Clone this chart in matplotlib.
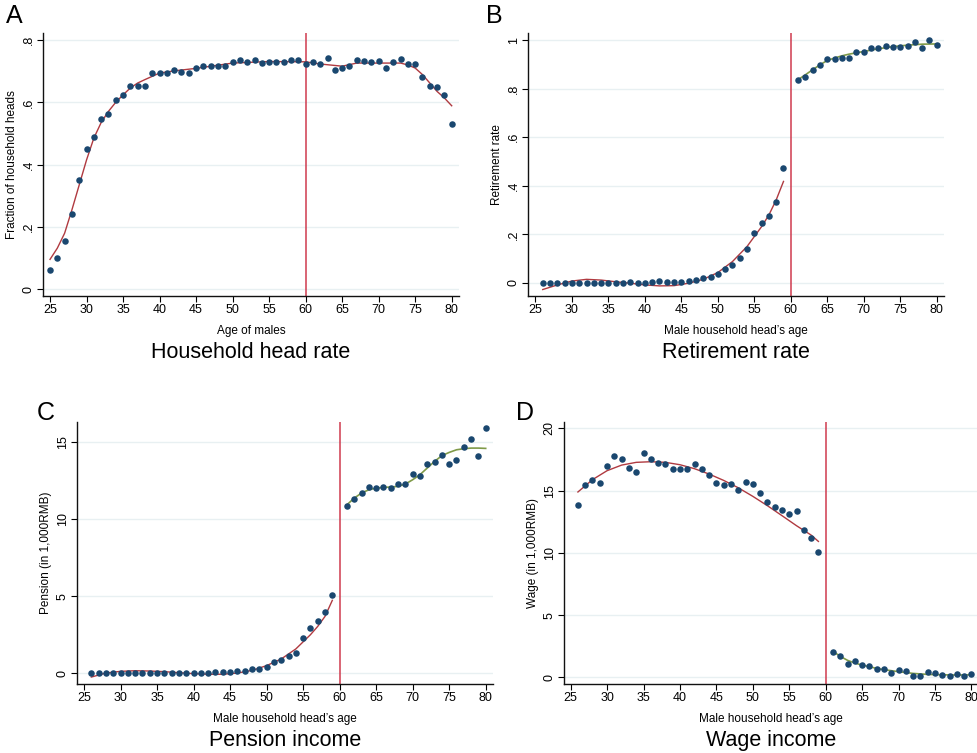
import numpy as np
import matplotlib
matplotlib.use('Agg')
import matplotlib.pyplot as plt

plt.rcParams['font.family'] = ['Liberation Sans', 'DejaVu Sans']

# ==========================================
# DATA
# ==========================================
ages_a = list(range(25, 81))
head_rate = [0.062, 0.102, 0.156, 0.242, 0.350, 0.451, 0.490, 0.548, 0.563, 0.606,
             0.624, 0.653, 0.653, 0.654, 0.693, 0.694, 0.695, 0.704, 0.696, 0.693,
             0.711, 0.716, 0.718, 0.718, 0.716, 0.731, 0.736, 0.730, 0.735, 0.727,
             0.731, 0.730, 0.729, 0.735, 0.737, 0.724, 0.729, 0.722, 0.742, 0.704,
             0.710, 0.716, 0.735, 0.734, 0.729, 0.733, 0.709, 0.728, 0.739, 0.724,
             0.724, 0.682, 0.653, 0.649, 0.624, 0.529]
fit_a_x = [25, 26, 27, 28, 29, 30, 31, 32, 33, 34, 35, 36, 37, 38, 40, 42, 45, 50,
           55, 60, 62, 65, 67, 70, 73, 74, 75, 76, 77, 78, 79, 80]
fit_a_y = [0.096, 0.132, 0.180, 0.255, 0.335, 0.415, 0.485, 0.535, 0.571, 0.600,
           0.624, 0.646, 0.662, 0.673, 0.694, 0.701, 0.709, 0.726, 0.731, 0.730,
           0.723, 0.716, 0.726, 0.726, 0.726, 0.720, 0.710, 0.689, 0.662, 0.635,
           0.614, 0.589]

ages_pre = list(range(26, 60))
ages_post = list(range(61, 81))

retire_pre = [0.0, 0.0, 0.0, 0.0, 0.001, 0.0, 0.0, 0.0, 0.0, 0.0, 0.0, 0.0, 0.003,
              0.001, 0.0, 0.002, 0.008, 0.004, 0.004, 0.005, 0.008, 0.014, 0.019,
              0.023, 0.037, 0.056, 0.073, 0.103, 0.140, 0.207, 0.247, 0.277, 0.335,
              0.474]
retire_post = [0.835, 0.848, 0.876, 0.896, 0.924, 0.924, 0.928, 0.927, 0.949, 0.952,
               0.966, 0.968, 0.975, 0.973, 0.971, 0.977, 0.993, 0.966, 1.0, 0.978]
fit_b_pre_x = [26, 28, 30, 32, 34, 36, 38, 40, 42, 44, 46, 48, 50, 52, 54, 56, 57, 58, 59]
fit_b_pre_y = [-0.027, -0.008, 0.008, 0.015, 0.012, 0.005, -0.001, -0.008, -0.012,
               -0.011, -0.001, 0.015, 0.043, 0.088, 0.150, 0.232, 0.280, 0.342, 0.418]
fit_b_post_x = [61, 62, 63, 64, 65, 66, 67, 68, 70, 72, 74, 76, 78, 80]
fit_b_post_y = [0.837, 0.857, 0.878, 0.898, 0.916, 0.926, 0.935, 0.942, 0.953, 0.964,
                0.973, 0.979, 0.983, 0.984]

pension_pre = [0.0, 0.04, 0.0, 0.02, 0.04, 0.0, 0.0, 0.02, 0.0, 0.03, 0.02, 0.02,
               0.02, 0.02, 0.02, 0.03, 0.04, 0.06, 0.06, 0.06, 0.13, 0.15, 0.28,
               0.28, 0.43, 0.71, 0.86, 1.14, 1.34, 2.29, 2.91, 3.37, 3.95, 5.05]
pension_post = [10.84, 11.31, 11.66, 12.07, 11.98, 12.07, 12.02, 12.28, 12.28, 12.89,
                12.80, 13.58, 13.68, 14.16, 13.58, 13.79, 14.65, 15.17, 14.05, 15.86]
fit_c_pre_x = [26, 28, 30, 32, 34, 36, 38, 40, 42, 44, 46, 48, 50, 52, 54, 56, 57, 58, 59]
fit_c_pre_y = [-0.24, 0.02, 0.13, 0.17, 0.15, 0.11, 0.04, -0.02, -0.06, -0.06, 0.02,
               0.19, 0.50, 0.93, 1.58, 2.50, 3.04, 3.69, 4.73]
fit_c_post_x = list(range(61, 81))
fit_c_post_y = [10.92, 11.35, 11.68, 11.89, 12.00, 12.04, 12.07, 12.11, 12.26, 12.54,
                12.87, 13.30, 13.73, 14.10, 14.31, 14.48, 14.55, 14.59, 14.59, 14.57]

wage_pre = [13.84, 15.48, 15.88, 15.64, 16.97, 17.78, 17.56, 16.84, 16.49, 18.02,
            17.56, 17.24, 17.16, 16.76, 16.71, 16.76, 17.11, 16.73, 16.22, 15.58,
            15.48, 15.50, 15.02, 15.69, 15.50, 14.78, 14.06, 13.65, 13.41, 13.09,
            13.39, 11.86, 11.16, 10.07]
wage_post = [2.03, 1.71, 1.10, 1.29, 0.99, 0.94, 0.67, 0.64, 0.35, 0.62, 0.51, 0.11,
             0.13, 0.43, 0.32, 0.16, 0.11, 0.27, 0.13, 0.24]
fit_d_pre_x = [26, 28, 30, 32, 34, 36, 38, 40, 42, 44, 46, 48, 50, 52, 54, 56, 58, 59]
fit_d_pre_y = [14.89, 15.88, 16.60, 17.05, 17.27, 17.32, 17.27, 17.08, 16.76, 16.33,
               15.82, 15.23, 14.54, 13.79, 12.99, 12.18, 11.43, 10.92]
fit_d_post_x = [61, 62, 63, 64, 65, 66, 67, 68, 69, 70, 72, 74, 76, 78, 80]
fit_d_post_y = [2.09, 1.69, 1.37, 1.15, 0.99, 0.86, 0.72, 0.62, 0.54, 0.46, 0.32,
                0.24, 0.21, 0.19, 0.21]

# ==========================================
# STYLE
# ==========================================
W, H = 978, 753
DOT = '#1a476f'
FIT_RED = '#b03a40'
FIT_GREEN = '#7f9a48'
VLINE = '#cf3a4e'
GRID = '#e8f0f2'
DOT_SIZE = 22


def px_axes(l, t, r, b):
    # pixel box -> figure fraction
    return [l / W, 1 - b / H, (r - l) / W, (b - t) / H]


def setup(ax, ylim, yticks, yticklabels, xlim, ylabel, xlabel, title, letter, lpos):
    ax.set_xlim(*xlim)
    ax.set_ylim(*ylim)
    ax.set_xticks(range(25, 81, 5))
    ax.set_yticks(yticks)
    ax.set_yticklabels(yticklabels, rotation=90, va='center')
    for s in ['top', 'right']:
        ax.spines[s].set_visible(False)
    for s in ['left', 'bottom']:
        ax.spines[s].set_linewidth(1.0)
        ax.spines[s].set_color('#111111')
    ax.tick_params(labelsize=9, length=4, width=0.8, pad=2)
    ax.grid(True, axis='y', color=GRID, linewidth=1.0)
    ax.set_axisbelow(True)
    ax.axvline(60, color=VLINE, linewidth=1.1, zorder=1)
    ax.set_ylabel(ylabel, fontsize=8.5, labelpad=3)
    ax.set_xlabel(xlabel, fontsize=8.5, labelpad=6)
    ax.text(0.5, -0.215, title, transform=ax.transAxes, ha='center', va='center',
            fontsize=15.5)
    ax.figure.text(lpos[0] / W, 1 - lpos[1] / H, letter, fontsize=18,
                   ha='left', va='center')


fig = plt.figure(figsize=(9.78, 7.53), dpi=100)

# Panel A
ax = fig.add_axes(px_axes(43, 33, 459, 296))
ax.plot(fit_a_x, fit_a_y, color=FIT_RED, linewidth=1.0, zorder=2)
ax.scatter(ages_a, head_rate, s=DOT_SIZE, color=DOT, zorder=3, linewidths=0)
setup(ax, (-0.0215, 0.8225), [0, 0.2, 0.4, 0.6, 0.8], ['0', '.2', '.4', '.6', '.8'],
      (24.04, 81.0), 'Fraction of household heads', 'Age of males',
      'Household head rate', 'A', (6, 16))

# Panel B
ax = fig.add_axes(px_axes(528, 33, 944, 296))
ax.plot(fit_b_pre_x, fit_b_pre_y, color=FIT_RED, linewidth=1.0, zorder=2)
ax.plot(fit_b_post_x, fit_b_post_y, color=FIT_GREEN, linewidth=1.2, zorder=2)
ax.scatter(ages_pre, retire_pre, s=DOT_SIZE, color=DOT, zorder=3, linewidths=0)
ax.scatter(ages_post, retire_post, s=DOT_SIZE, color=DOT, zorder=3, linewidths=0)
setup(ax, (-0.0536, 1.029), [0, 0.2, 0.4, 0.6, 0.8, 1], ['0', '.2', '.4', '.6', '.8', '1'],
      (23.98, 81.0), 'Retirement rate', "Male household head\u2019s age",
      'Retirement rate', 'B', (486, 16))

# Panel C
ax = fig.add_axes(px_axes(77, 422, 493, 684))
ax.plot(fit_c_pre_x, fit_c_pre_y, color=FIT_RED, linewidth=1.0, zorder=2)
ax.plot(fit_c_post_x, fit_c_post_y, color=FIT_GREEN, linewidth=1.2, zorder=2)
ax.scatter(ages_pre, pension_pre, s=DOT_SIZE, color=DOT, zorder=3, linewidths=0)
ax.scatter(ages_post, pension_post, s=DOT_SIZE, color=DOT, zorder=3, linewidths=0)
setup(ax, (-0.69, 16.28), [0, 5, 10, 15], ['0', '5', '10', '15'],
      (24.04, 81.0), 'Pension (in 1,000RMB)', "Male household head\u2019s age",
      'Pension income', 'C', (37, 413))

# Panel D
ax = fig.add_axes(px_axes(564, 422, 978, 684))
ax.plot(fit_d_pre_x, fit_d_pre_y, color=FIT_RED, linewidth=1.0, zorder=2)
ax.plot(fit_d_post_x, fit_d_post_y, color=FIT_GREEN, linewidth=1.2, zorder=2)
ax.scatter(ages_pre, wage_pre, s=DOT_SIZE, color=DOT, zorder=3, linewidths=0)
ax.scatter(ages_post, wage_post, s=DOT_SIZE, color=DOT, zorder=3, linewidths=0)
setup(ax, (-0.53, 20.51), [0, 5, 10, 15, 20], ['0', '5', '10', '15', '20'],
      (24.09, 80.9), 'Wage (in 1,000RMB)', "Male household head\u2019s age",
      'Wage income', 'D', (516, 413))

fig.savefig('out.png', dpi=100, facecolor='white')
